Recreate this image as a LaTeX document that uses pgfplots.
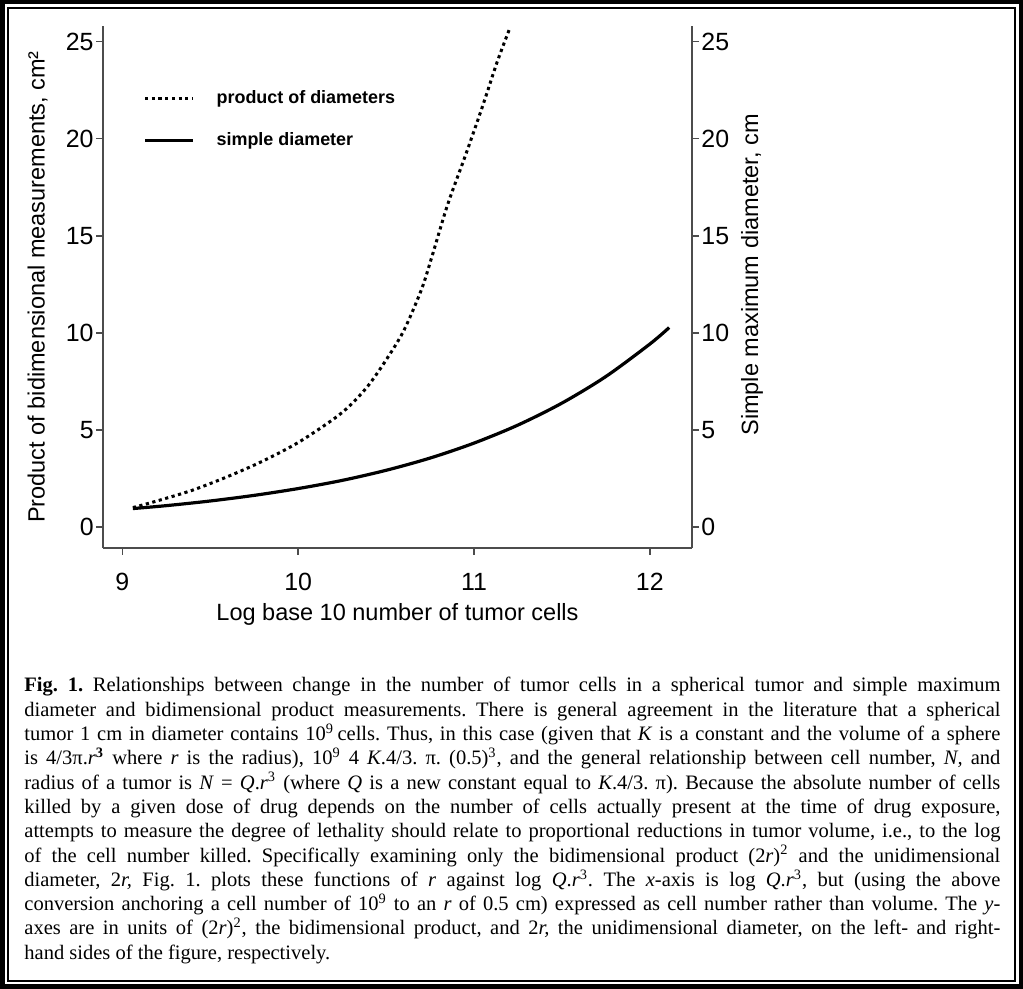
\documentclass[border=0pt]{standalone}
\usepackage{fontspec}
\setmainfont{Liberation Serif}
\newfontfamily\arial{Liberation Sans}
\usepackage{pgfplots}
\pgfplotsset{compat=1.18}

% product of diameters, (2r)^2
\pgfplotstableread{
x y
9.06 1.00
9.20 1.35
9.40 1.90
9.60 2.60
9.80 3.40
10.00 4.35
10.20 5.55
10.30 6.30
10.40 7.30
10.50 8.60
10.60 10.10
10.70 12.20
10.76 13.90
10.85 16.60
10.95 19.10
11.05 21.70
11.13 23.90
11.20 25.60
}\productdata

% simple diameter, 2r
\pgfplotstableread{
x y
9.06 0.95
9.25 1.10
9.50 1.34
9.75 1.63
10.00 1.98
10.25 2.40
10.50 2.92
10.75 3.55
11.00 4.32
11.25 5.25
11.50 6.38
11.75 7.75
12.00 9.42
12.11 10.27
}\diamdata

\pgfplotsset{
  chartbase/.style={
    at={(51.5bp,220.5bp)}, anchor=south west,
    scale only axis, width=294.5bp, height=261bp,
    xmin=8.89, xmax=12.24, ymin=-1.08, ymax=25.8,
    ytick={0,5,10,15,20,25},
    tick align=outside, major tick length=3.5bp,
    axis line style={black!70, line width=0.8bp, -},
    every tick/.style={black!70, line width=0.8bp},
    /pgf/number format/assume math mode=true,
    tick label style={font=\arial\fontsize{12.5}{14}\selectfont, inner sep=1bp},
    label style={font=\arial\fontsize{11.8}{13}\selectfont},
  },
  dotstyle/.style={black, line width=1.5bp, dash pattern=on 1.6bp off 1.75bp},
  solidstyle/.style={black, line width=1.6bp},
}

\begin{document}
\begin{tikzpicture}[x=1bp,y=1bp]
% double frame
\draw[line width=2.25bp] (1.125,1.125) rectangle (510.375,493.375);
\draw[line width=1bp] (4,4) rectangle (507.5,490.5);

\begin{axis}[chartbase,
  axis y line*=left, axis x line*=bottom,
  xtick={9,10,11,12},
  xticklabel style={yshift=-8bp},
  xlabel={Log base 10 number of tumor cells},
  ylabel={Product of bidimensional measurements, cm²},
  xlabel style={at={(axis description cs:0.5,-0.128)}, anchor=center},
  ylabel style={at={(axis description cs:-0.111,0.5)}, anchor=center},
  legend style={at={(axis description cs:0.068,0.885)}, anchor=north west,
    draw=none, fill=none, inner sep=0pt, row sep=9bp,
    font=\arial\bfseries\fontsize{9}{10.8}\selectfont,
    cells={anchor=west},
    /tikz/every odd column/.append style={column sep=9bp}},
  legend image code/.code={\draw[#1] (0bp,0bp) -- (24bp,0bp);},
]
\addplot[dotstyle, smooth] table {\productdata};
\addlegendentry{product of diameters}
\addlegendimage{solidstyle}
\addlegendentry{simple diameter}
\end{axis}

\begin{axis}[chartbase,
  axis y line*=right, axis x line=none,
  ylabel={Simple maximum diameter, cm},
  ylabel style={at={(axis description cs:1.102,0.523)}, anchor=center, rotate=0},
]
\addplot[solidstyle, smooth] table {\diamdata};
\end{axis}

% caption
\node[anchor=north west, inner sep=0pt, text width=488bp, align=left,
  font=\fontsize{10.3}{12.2}\selectfont\frenchspacing] at (12,156) {%
\spaceskip=0pt \xspaceskip=0pt
\makebox[488bp][s]{\textbf{Fig. 1.} Relationships between change in the number of tumor cells in a spherical tumor and simple maximum}\\
\makebox[488bp][s]{diameter and bidimensional product measurements. There is general agreement in the literature that a spherical}\\
\makebox[488bp][s]{tumor 1 cm in diameter contains 10\textsuperscript{9}\,cells. Thus, in this case (given that \textit{K} is a constant and the volume of a sphere}\\
\makebox[488bp][s]{is 4/3π.\textit{r}\textsuperscript{\textbf{3}} where \textit{r} is the radius), 10\textsuperscript{9} 4 \textit{K}.4/3. π. (0.5)\textsuperscript{3}, and the general relationship between cell number, \textit{N,} and}\\
\makebox[488bp][s]{radius of a tumor is \textit{N} = \textit{Q}.\textit{r}\textsuperscript{3} (where \textit{Q} is a new constant equal to \textit{K}.4/3. π). Because the absolute number of cells}\\
\makebox[488bp][s]{killed by a given dose of drug depends on the number of cells actually present at the time of drug exposure,}\\
\makebox[488bp][s]{attempts to measure the degree of lethality should relate to proportional reductions in tumor volume, i.e., to the log}\\
\makebox[488bp][s]{of the cell number killed. Specifically examining only the bidimensional product (2\textit{r})\textsuperscript{2} and the unidimensional}\\
\makebox[488bp][s]{diameter, 2\textit{r,} Fig. 1. plots these functions of \textit{r} against log \textit{Q}.\textit{r}\textsuperscript{3}. The \textit{x}-axis is log \textit{Q}.\textit{r}\textsuperscript{3}, but (using the above}\\
\makebox[488bp][s]{conversion anchoring a cell number of 10\textsuperscript{9} to an \textit{r} of 0.5 cm) expressed as cell number rather than volume. The \textit{y}-}\\
\makebox[488bp][s]{axes are in units of (2\textit{r})\textsuperscript{2}, the bidimensional product, and 2\textit{r,} the unidimensional diameter, on the left- and right-}\\
hand sides of the figure, respectively.};
\end{tikzpicture}
\end{document}
